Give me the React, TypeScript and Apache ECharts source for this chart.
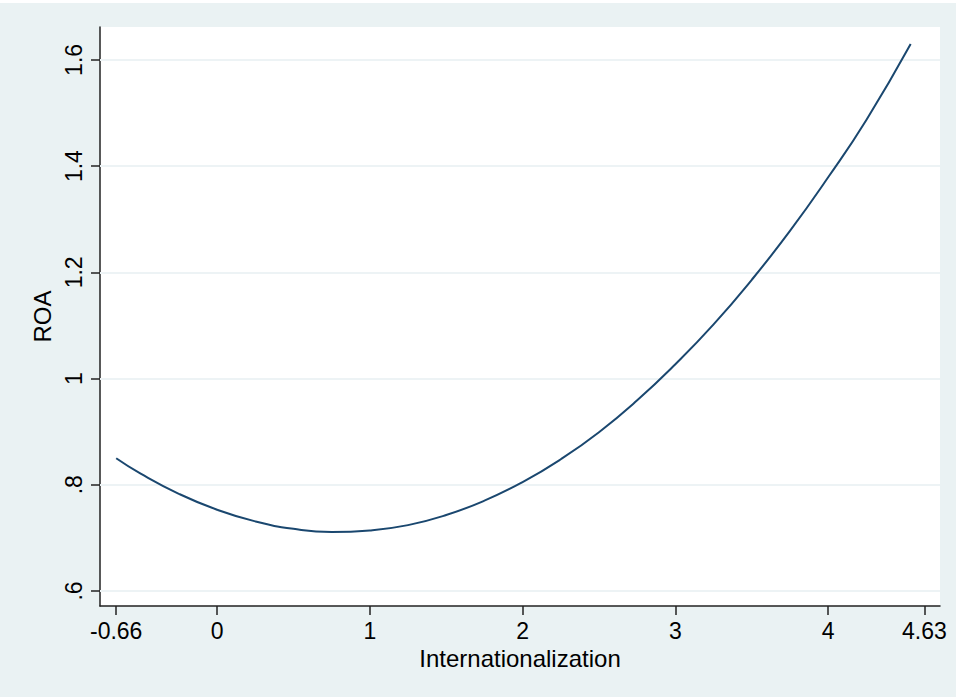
import React, { useEffect, useRef } from "react";
import * as echarts from "echarts";

const xValues = [-0.66, -0.5, -0.25, 0, 0.25, 0.5, 0.75, 1, 1.25, 1.5, 1.75, 2, 2.25, 2.5, 2.75, 3, 3.25, 3.5, 3.75, 4, 4.25, 4.54];
const roaValues = [0.85, 0.821, 0.783, 0.753, 0.731, 0.717, 0.711, 0.714, 0.724, 0.743, 0.77, 0.805, 0.848, 0.899, 0.959, 1.027, 1.102, 1.186, 1.278, 1.379, 1.487, 1.63];
const xTicks = [-0.66, 0, 1, 2, 3, 4, 4.63];
const yTicks = [0.6, 0.8, 1, 1.2, 1.4, 1.6];
const yTickLabels = [".6", ".8", "1", "1.2", "1.4", "1.6"];

const FONT = "'Liberation Sans', Arial, Helvetica, sans-serif";

export default function App() {
  const ref = useRef<HTMLDivElement>(null);
  useEffect(() => {
    if (!ref.current) return;
    const chart = echarts.init(ref.current, null, { renderer: "svg" });
    const data = xValues.map((x, i) => [x, roaValues[i]]);
    chart.setOption({
      animation: false,
      backgroundColor: "#ffffff",
      graphic: [
        {
          type: "rect",
          z: -10,
          silent: true,
          shape: { x: 0, y: 3, width: 956, height: 694 },
          style: { fill: "#EAF2F3" },
        },
      ],
      grid: {
        left: 100,
        right: 16,
        top: 27,
        bottom: 91,
        show: true,
        backgroundColor: "#ffffff",
        borderWidth: 0,
      },
      xAxis: {
        type: "value",
        min: -0.766,
        max: 4.732,
        name: "Internationalization",
        nameLocation: "middle",
        nameGap: 39,
        nameTextStyle: { fontFamily: FONT, fontSize: 24, color: "#000" },
        axisLine: { show: true, onZero: false, lineStyle: { color: "#222", width: 1.5 } },
        axisTick: { show: true, length: 9, customValues: xTicks, lineStyle: { color: "#222", width: 1.5 } },
        axisLabel: {
          customValues: xTicks,
          fontFamily: FONT,
          fontSize: 23,
          color: "#000",
          margin: 13,
          formatter: (v: number) => String(v),
        },
        splitLine: { show: false },
      },
      yAxis: {
        type: "value",
        min: 0.5717,
        max: 1.662,
        name: "ROA",
        nameLocation: "middle",
        nameGap: 42,
        nameRotate: 90,
        nameTextStyle: { fontFamily: FONT, fontSize: 24, color: "#000" },
        axisLine: { show: true, onZero: false, lineStyle: { color: "#222", width: 1.5 } },
        axisTick: { show: true, length: 9, customValues: yTicks, lineStyle: { color: "#222", width: 1.5 } },
        axisLabel: {
          customValues: yTicks,
          rotate: 90,
          fontFamily: FONT,
          fontSize: 23,
          color: "#000",
          margin: 15,
          formatter: (v: number) => {
            const i = yTicks.findIndex((t) => Math.abs(t - v) < 1e-6);
            return i >= 0 ? yTickLabels[i] : "";
          },
        },
        splitLine: { show: false },
      },
      series: [
        {
          type: "line",
          data,
          smooth: true,
          showSymbol: false,
          symbol: "none",
          lineStyle: { color: "#1a476f", width: 2 },
          markLine: {
            silent: true,
            symbol: "none",
            label: { show: false },
            lineStyle: { color: "#EDF3F5", width: 2, type: "solid" },
            data: yTicks.map((t) => ({ yAxis: t })),
            z: 1,
          },
          z: 5,
        },
      ],
    });
    return () => chart.dispose();
  }, []);
  return (
    <div
      ref={ref}
      style={{ position: "absolute", left: 0, top: 0, width: 956, height: 697 }}
    />
  );
}
